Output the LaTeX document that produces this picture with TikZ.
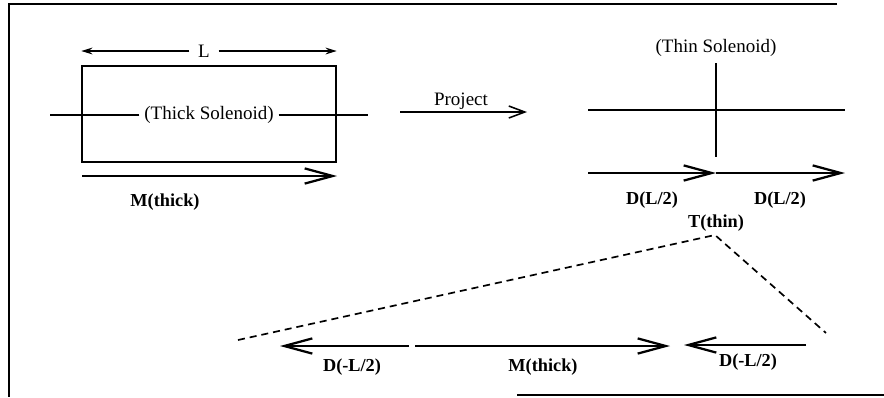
\documentclass[tikz,border=0pt]{standalone}
\usepackage{fontspec}
\setmainfont{Liberation Serif}
\usetikzlibrary{arrows.meta}

\begin{document}
\begin{tikzpicture}[x=0.025cm,y=-0.025cm,
        every node/.style={font=\fontsize{13.5}{15}\selectfont},
        bold/.style={font=\fontsize{13}{15}\selectfont\bfseries},
        vec/.style={line width=1.6pt,-{Straight Barb[length=7mm,width=3.8mm]}},
        thinvec/.style={line width=1.1pt,-{Straight Barb[length=4mm,width=3mm]}},
        dim/.style={line width=1.1pt,-{Stealth[length=2.8mm,width=1.7mm]}},
        zoomline/.style={line width=1.2pt,dash pattern=on 5pt off 3.5pt}]
        \useasboundingbox (0,0) rectangle (884,397);
        \draw [line width=1.2pt] (837,4) -- (9,4) -- (9,397);
        \draw [line width=1.2pt] (517,395) -- (884,395);

        \node [draw,line width=1pt,minimum width=6.35cm,minimum height=2.4cm] (Thick) at (209,114) {};
        \node [fill=white] (ThickLabel) at (209,115) {(Thick Solenoid)};
        \coordinate (AxisW) at (50,115);
        \coordinate (AxisE) at (368,115);
        \draw [line width=1.1pt] (ThickLabel) -- (AxisW);
        \draw [line width=1.1pt] (ThickLabel) -- (AxisE);
        \node [inner sep=6pt] (Len) at (204,51) {L};
        \draw [dim] (Len) -- (Len -| Thick.west);
        \draw [dim] (Len) -- (Len -| Thick.east);
        \coordinate (Mw) at (82,176);
        \coordinate (Me) at (337,176);
        \draw [vec] (Mw) -- (Me);
        \node [bold] (Mthick) at (165,202) {M(thick)};

        \node (Project) at (461,101) {Project};
        \coordinate (Pw) at (400,112);
        \coordinate (Pe) at (527,112);
        \draw [thinvec] (Pw) -- (Pe);

        \node (ThinLabel) at (716,48) {(Thin Solenoid)};
        \coordinate (ThinW) at (588,110);
        \coordinate (ThinE) at (845,110);
        \coordinate (ThinN) at (716,63);
        \coordinate (ThinS) at (716,157);
        \draw [line width=1.1pt] (ThinW) -- (ThinE);
        \draw [line width=1.1pt] (ThinN) -- (ThinS);
        \coordinate (Dw) at (588,173);
        \coordinate (Dm) at (716,173);
        \coordinate (De) at (845,173);
        \draw [vec] (Dw) -- (Dm);
        \draw [vec] (Dm) -- (De);
        \node [bold] (DhalfA) at (652,200) {D(L/2)};
        \node [bold] (DhalfB) at (780,200) {D(L/2)};
        \node [bold] (Tthin) at (716,223) {T(thin)};

        \coordinate (Apex) at (715,235);
        \coordinate (ZoomW) at (238,340);
        \coordinate (ZoomE) at (826,333);
        \draw [zoomline] (ZoomW) -- (Apex) -- (ZoomE);

        \coordinate (BwTip) at (280,346);
        \coordinate (BwEnd) at (409,346);
        \coordinate (BmW) at (415,346);
        \coordinate (BmE) at (670,346);
        \coordinate (BeTip) at (684,345);
        \coordinate (BeEnd) at (806,345);
        \draw [vec] (BwEnd) -- (BwTip);
        \draw [vec] (BmW) -- (BmE);
        \draw [vec] (BeEnd) -- (BeTip);
        \node [bold] (DnegA) at (352,367) {D(-L/2)};
        \node [bold] (Mbottom) at (543,367) {M(thick)};
        \node [bold] (DnegB) at (748,362) {D(-L/2)};
\end{tikzpicture}
\end{document}
